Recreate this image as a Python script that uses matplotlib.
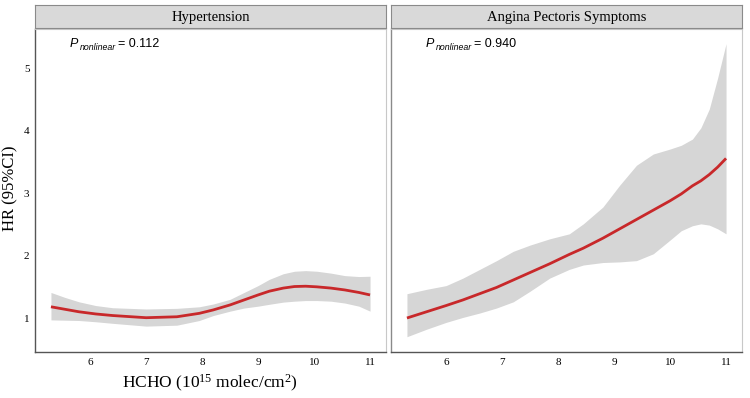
import matplotlib
matplotlib.use("Agg")
import matplotlib.pyplot as plt

plt.rcParams['mathtext.fontset'] = 'custom'
plt.rcParams['mathtext.rm'] = 'Liberation Serif'
plt.rcParams['mathtext.it'] = 'Liberation Serif:italic'

# HCHO grid (10^15 molec/cm2)
hyp_x = [5.3, 5.55, 5.8, 6.1, 6.4, 7.0, 7.55, 7.95, 8.2, 8.5, 8.75, 9.0, 9.2,
         9.45, 9.65, 9.85, 10.05, 10.3, 10.55, 10.8, 11.0]
hyp_hr = [1.18, 1.14, 1.10, 1.065, 1.04, 1.005, 1.02, 1.075, 1.13, 1.21, 1.29,
          1.37, 1.43, 1.48, 1.505, 1.51, 1.50, 1.48, 1.45, 1.41, 1.37]
hyp_lo = [0.97, 0.965, 0.96, 0.94, 0.915, 0.87, 0.885, 0.96, 1.04, 1.11, 1.16,
          1.19, 1.22, 1.255, 1.27, 1.28, 1.28, 1.27, 1.24, 1.19, 1.11]
hyp_hi = [1.41, 1.33, 1.26, 1.20, 1.165, 1.145, 1.155, 1.18, 1.225, 1.30, 1.41,
          1.52, 1.62, 1.71, 1.75, 1.76, 1.75, 1.72, 1.68, 1.665, 1.67]

ang_x = [5.3, 5.65, 6.0, 6.3, 6.6, 6.9, 7.2, 7.5, 7.85, 8.2, 8.45, 8.8, 9.1,
         9.4, 9.7, 10.0, 10.2, 10.4, 10.55, 10.7, 10.85, 11.0]
ang_hr = [1.00, 1.10, 1.20, 1.29, 1.39, 1.49, 1.61, 1.73, 1.87, 2.02, 2.12, 2.28,
          2.43, 2.58, 2.73, 2.88, 2.99, 3.12, 3.20, 3.30, 3.42, 3.56]
ang_lo = [0.70, 0.82, 0.93, 1.01, 1.08, 1.16, 1.26, 1.43, 1.64, 1.78, 1.85, 1.89,
          1.90, 1.92, 2.03, 2.25, 2.40, 2.48, 2.51, 2.49, 2.43, 2.35]
ang_hi = [1.39, 1.46, 1.52, 1.64, 1.78, 1.92, 2.07, 2.17, 2.27, 2.35, 2.51, 2.78,
          3.13, 3.45, 3.63, 3.71, 3.77, 3.87, 4.05, 4.35, 4.85, 5.40]

panels = [
    ("Hypertension", "0.112", hyp_x, hyp_hr, hyp_lo, hyp_hi),
    ("Angina Pectoris Symptoms", "0.940", ang_x, ang_hr, ang_lo, ang_hi),
]
x_ticks = [6, 7, 8, 9, 10, 11]
y_ticks = [1, 2, 3, 4, 5]

W, H = 750, 398
fig = plt.figure(figsize=(W / 100, H / 100), dpi=100)

serif = 'Liberation Serif'
sans = 'Liberation Sans'
lefts = [35, 391]
pw, top, bottom = 351, 29, 352

for i, (title, pval, xs, hr, lo, hi) in enumerate(panels):
    left = lefts[i]
    ax = fig.add_axes([left / W, (H - bottom) / H, pw / W, (bottom - top) / H])
    ax.fill_between(xs, lo, hi, color='#d6d6d6', linewidth=0)
    ax.plot(xs, hr, color='#c8282a', linewidth=2.0, solid_capstyle='butt',
            solid_joinstyle='round')
    ax.set_xlim(5.015, 11.285)
    ax.set_ylim(0.455, 5.635)
    ax.set_xticks(x_ticks)
    ax.set_xticklabels([str(t) for t in x_ticks], fontfamily=serif, fontsize=8)
    ax.tick_params(axis='x', length=0, pad=4)
    if i == 0:
        ax.set_yticks(y_ticks)
        ax.set_yticklabels([str(t) for t in y_ticks], fontfamily=serif, fontsize=8)
        ax.tick_params(axis='y', length=0, pad=4)
    else:
        ax.set_yticks([])
    for s in ['top', 'right']:
        ax.spines[s].set_color('#c8c8c8')
        ax.spines[s].set_linewidth(0.8)
    for s in ['left', 'bottom']:
        ax.spines[s].set_color('#555555')
        ax.spines[s].set_linewidth(1.0)
    if i == 1:
        ax.spines['left'].set_color('#8a8a8a')

    # P nonlinear annotation
    ax.annotate("P", xy=(0.10, 0.945), xycoords='axes fraction', fontfamily=sans,
                style='italic', fontsize=9, va='baseline', ha='left')
    ax.annotate("nonlinear", xy=(0.10, 0.945), xycoords='axes fraction',
                xytext=(7, -2.5), textcoords='offset points', fontfamily=sans,
                style='italic', fontsize=6.3, va='baseline', ha='left')
    ax.annotate("= " + pval, xy=(0.10, 0.945), xycoords='axes fraction',
                xytext=(34.5, 0), textcoords='offset points', fontfamily=sans,
                fontsize=9, va='baseline', ha='left')

    # facet strip
    sax = fig.add_axes([left / W, (H - 28) / H, pw / W, 23 / H])
    sax.set_facecolor('#d9d9d9')
    sax.set_xticks([])
    sax.set_yticks([])
    for s in sax.spines.values():
        s.set_color('#8a8a8a')
        s.set_linewidth(0.8)
    sax.text(0.5, 0.47, title, transform=sax.transAxes, ha='center', va='center',
             fontfamily=serif, fontsize=10.5)

fig.text(10 / W, 1 - 188 / H, "HR (95%CI)", rotation=90, ha='center', va='center',
         fontfamily=serif, fontsize=12)
fig.text(210 / W, 1 - 383 / H, "HCHO (10$^{15}$ molec/cm$^{2}$)", ha='center',
         va='center', fontfamily=serif, fontsize=12.5)

fig.savefig("out.png", dpi=100)
